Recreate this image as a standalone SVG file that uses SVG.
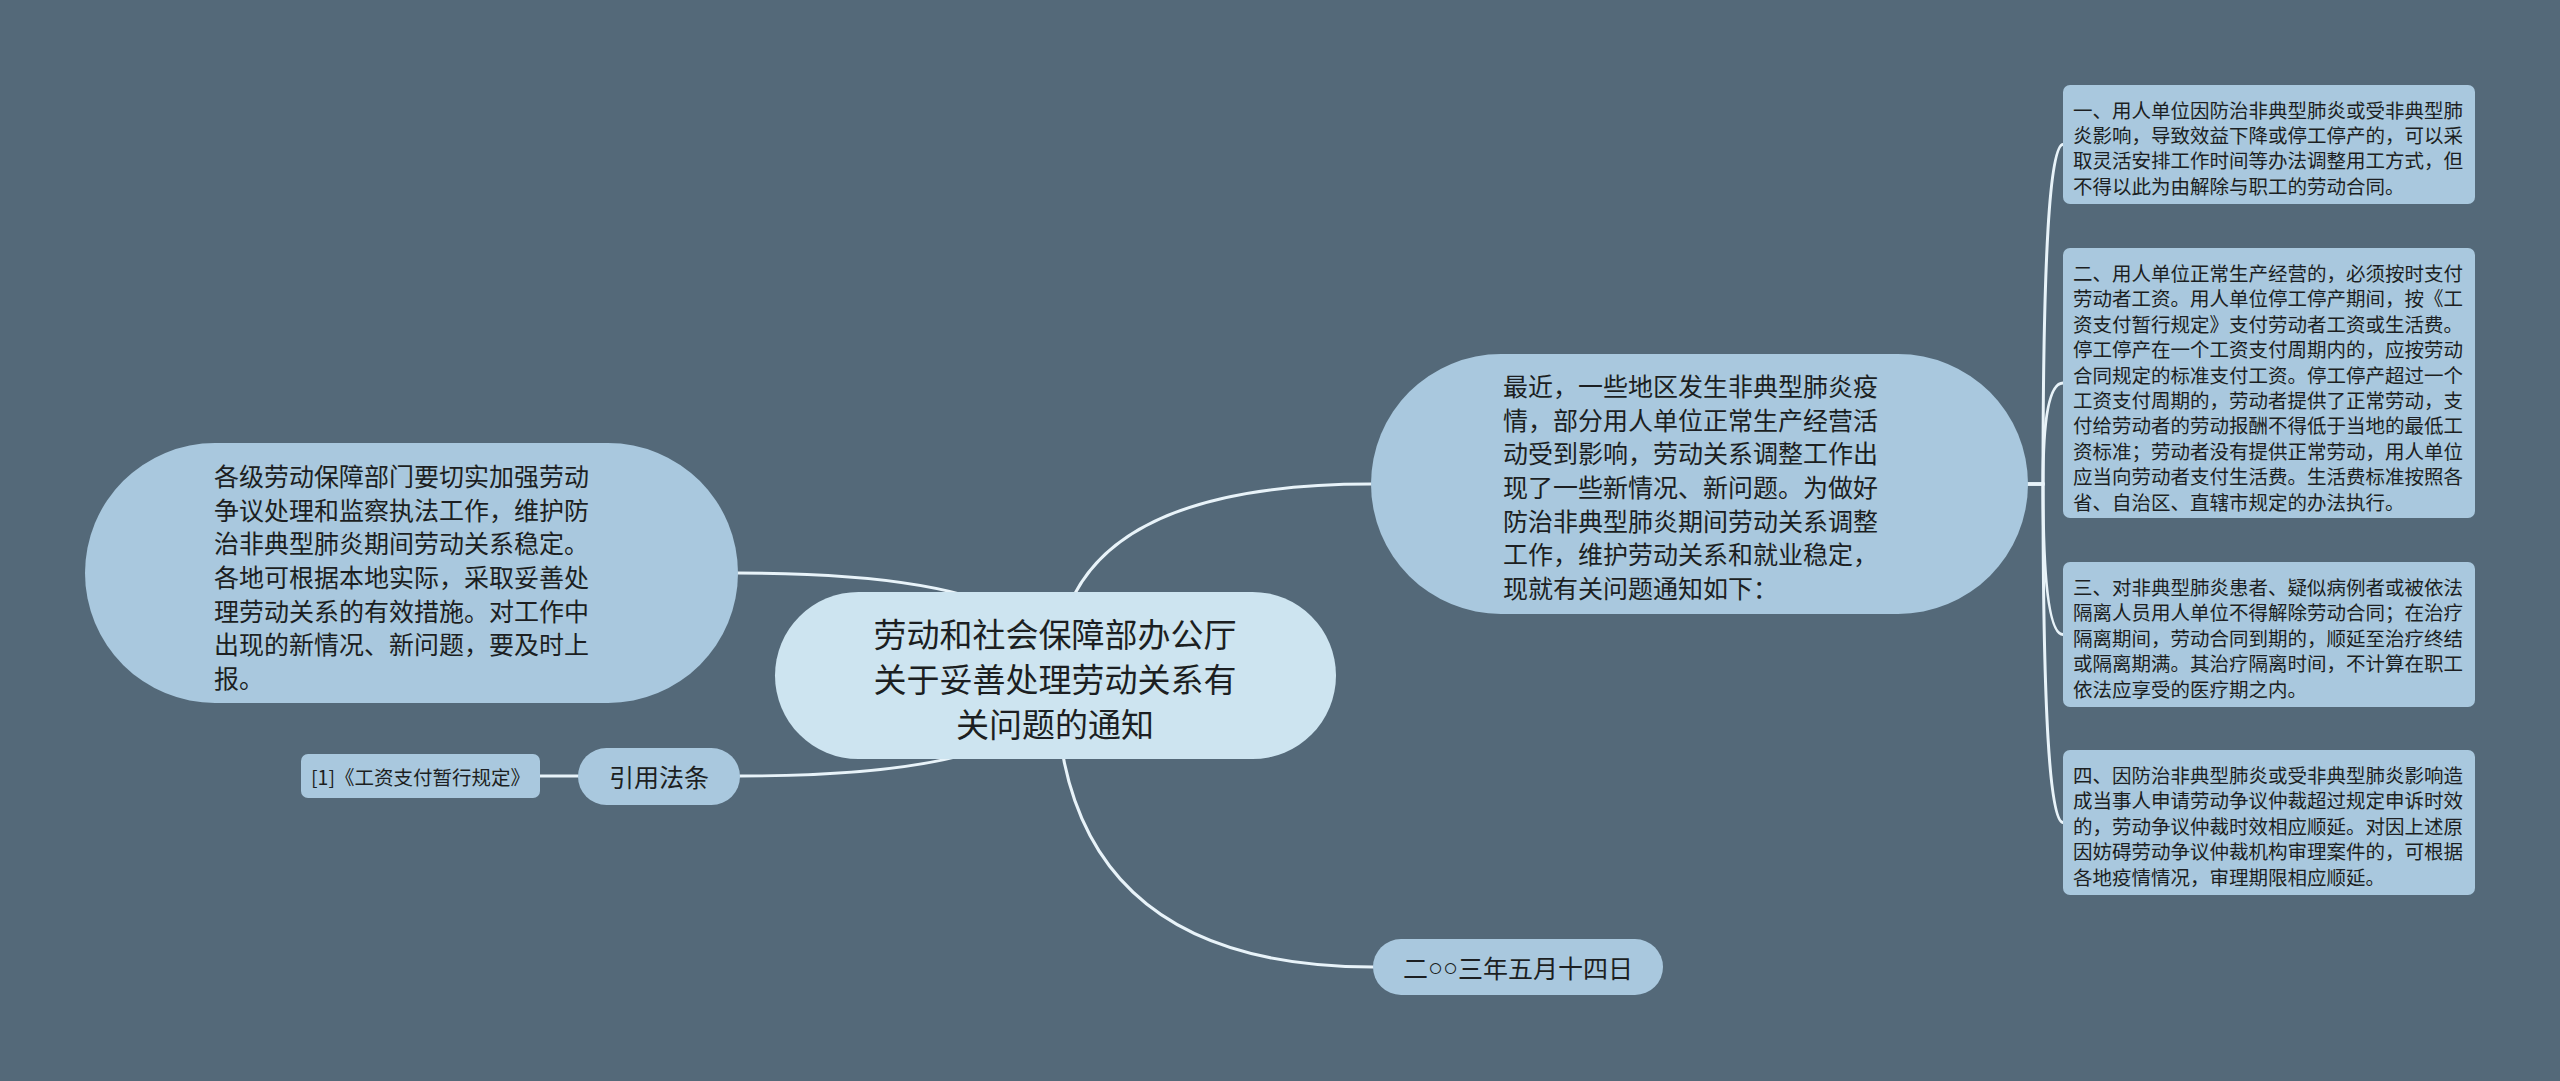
<svg xmlns="http://www.w3.org/2000/svg" width="2560" height="1081" viewBox="0 0 2560 1081">
<style>
.bg{fill:#546979}
.n1{fill:#a9c8de}
.n0{fill:#cde4f0}
.t{font-family:"Noto Sans CJK SC","Noto Sans",sans-serif;fill:#1c1f22;dominant-baseline:central}
.t0{font-size:33px}
.t1{font-size:25px}
.t2{font-size:19.5px}
.c{fill:none;stroke:#e8f3f9;stroke-width:3;stroke-linecap:round}
</style>
<rect class="bg" x="0" y="0" width="2560" height="1081"/>
<g id="connectors">
<path class="c" d="M1056 676 Q1056 484 1371 484"/>
<path class="c" d="M1056 676 Q1056 573 738 573"/>
<path class="c" d="M1056 676 Q1056 776 740 776"/>
<path class="c" d="M1056 676 Q1056 967 1373 967"/>
<path class="c" d="M578 776 L540 776"/>
<path class="c" d="M2026 484 L2043 484 Q2043 144.5 2063 144.5"/>
<path class="c" d="M2026 484 L2043 484 Q2043 383 2063 383"/>
<path class="c" d="M2026 484 L2043 484 Q2043 634.5 2063 634.5"/>
<path class="c" d="M2026 484 L2043 484 Q2043 822.5 2063 822.5"/>
</g>
<g id="root">
<rect class="n0" x="775" y="592" width="561" height="167" rx="83.5"/>
<text class="t t0" text-anchor="middle"><tspan x="1055" y="633">劳动和社会保障部办公厅</tspan><tspan x="1055" y="678">关于妥善处理劳动关系有</tspan><tspan x="1055" y="723">关问题的通知</tspan></text>
</g>
<g id="left-node">
<rect class="n1" x="85" y="443" width="653" height="260" rx="130"/>
<text class="t t1"><tspan x="214" y="475">各级劳动保障部门要切实加强劳动</tspan><tspan x="214" y="508.7">争议处理和监察执法工作，维护防</tspan><tspan x="214" y="542.4">治非典型肺炎期间劳动关系稳定。</tspan><tspan x="214" y="576">各地可根据本地实际，采取妥善处</tspan><tspan x="214" y="609.7">理劳动关系的有效措施。对工作中</tspan><tspan x="214" y="643.4">出现的新情况、新问题，要及时上</tspan><tspan x="214" y="677">报。</tspan></text>
</g>
<g id="right-node">
<rect class="n1" x="1371" y="354" width="657" height="260" rx="130"/>
<text class="t t1"><tspan x="1503" y="385">最近，一些地区发生非典型肺炎疫</tspan><tspan x="1503" y="418.7">情，部分用人单位正常生产经营活</tspan><tspan x="1503" y="452.4">动受到影响，劳动关系调整工作出</tspan><tspan x="1503" y="486">现了一些新情况、新问题。为做好</tspan><tspan x="1503" y="519.7">防治非典型肺炎期间劳动关系调整</tspan><tspan x="1503" y="553.4">工作，维护劳动关系和就业稳定，</tspan><tspan x="1503" y="587">现就有关问题通知如下：</tspan></text>
</g>
<g id="cite-node">
<rect class="n1" x="578" y="748" width="162" height="57" rx="28.5"/>
<text class="t t1" x="659" y="776" text-anchor="middle">引用法条</text>
</g>
<g id="cite-item">
<rect class="n1" x="301" y="754" width="239" height="44" rx="7"/>
<text class="t t2" x="311" y="776">[1]《工资支付暂行规定》</text>
</g>
<g id="date-node">
<rect class="n1" x="1373" y="939" width="290" height="56" rx="28"/>
<text class="t t1" x="1518" y="967" text-anchor="middle">二<tspan font-family="Liberation Sans">○○</tspan>三年五月十四日</text>
</g>
<g id="item-1">
<rect class="n1" x="2063" y="85" width="412" height="119" rx="7"/>
<text class="t t2"><tspan x="2073" y="108.5">一、用人单位因防治非典型肺炎或受非典型肺</tspan><tspan x="2073" y="133.9">炎影响，导致效益下降或停工停产的，可以采</tspan><tspan x="2073" y="159.3">取灵活安排工作时间等办法调整用工方式，但</tspan><tspan x="2073" y="184.7">不得以此为由解除与职工的劳动合同。</tspan></text>
</g>
<g id="item-2">
<rect class="n1" x="2063" y="248" width="412" height="270" rx="7"/>
<text class="t t2"><tspan x="2073" y="272">二、用人单位正常生产经营的，必须按时支付</tspan><tspan x="2073" y="297.4">劳动者工资。用人单位停工停产期间，按《工</tspan><tspan x="2073" y="322.8">资支付暂行规定》支付劳动者工资或生活费。</tspan><tspan x="2073" y="348.2">停工停产在一个工资支付周期内的，应按劳动</tspan><tspan x="2073" y="373.6">合同规定的标准支付工资。停工停产超过一个</tspan><tspan x="2073" y="399">工资支付周期的，劳动者提供了正常劳动，支</tspan><tspan x="2073" y="424.4">付给劳动者的劳动报酬不得低于当地的最低工</tspan><tspan x="2073" y="449.8">资标准；劳动者没有提供正常劳动，用人单位</tspan><tspan x="2073" y="475.2">应当向劳动者支付生活费。生活费标准按照各</tspan><tspan x="2073" y="500.6">省、自治区、直辖市规定的办法执行。</tspan></text>
</g>
<g id="item-3">
<rect class="n1" x="2063" y="562" width="412" height="145" rx="7"/>
<text class="t t2"><tspan x="2073" y="586">三、对非典型肺炎患者、疑似病例者或被依法</tspan><tspan x="2073" y="611.4">隔离人员用人单位不得解除劳动合同；在治疗</tspan><tspan x="2073" y="636.8">隔离期间，劳动合同到期的，顺延至治疗终结</tspan><tspan x="2073" y="662.2">或隔离期满。其治疗隔离时间，不计算在职工</tspan><tspan x="2073" y="687.6">依法应享受的医疗期之内。</tspan></text>
</g>
<g id="item-4">
<rect class="n1" x="2063" y="750" width="412" height="145" rx="7"/>
<text class="t t2"><tspan x="2073" y="774">四、因防治非典型肺炎或受非典型肺炎影响造</tspan><tspan x="2073" y="799.4">成当事人申请劳动争议仲裁超过规定申诉时效</tspan><tspan x="2073" y="824.8">的，劳动争议仲裁时效相应顺延。对因上述原</tspan><tspan x="2073" y="850.2">因妨碍劳动争议仲裁机构审理案件的，可根据</tspan><tspan x="2073" y="875.6">各地疫情情况，审理期限相应顺延。</tspan></text>
</g>
</svg>
